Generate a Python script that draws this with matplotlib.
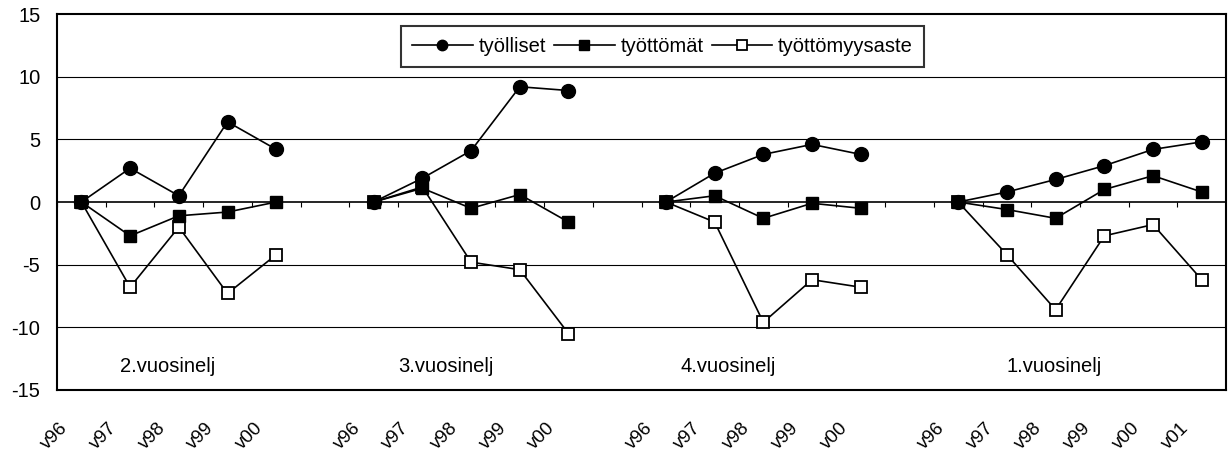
import numpy as np
import matplotlib
matplotlib.use("Agg")
import matplotlib.pyplot as plt

plt.rcParams['font.family'] = ['Liberation Sans', 'DejaVu Sans']
plt.rcParams['axes.unicode_minus'] = False

# groups (quarters) and their year labels
groups = ["2.vuosinelj", "3.vuosinelj", "4.vuosinelj", "1.vuosinelj"]
years = [["v96", "v97", "v98", "v99", "v00"],
         ["v96", "v97", "v98", "v99", "v00"],
         ["v96", "v97", "v98", "v99", "v00"],
         ["v96", "v97", "v98", "v99", "v00", "v01"]]

tyolliset = [[0, 2.7, 0.5, 6.4, 4.2],
             [0, 1.9, 4.1, 9.2, 8.9],
             [0, 2.3, 3.8, 4.6, 3.8],
             [0, 0.8, 1.8, 2.9, 4.2, 4.8]]
tyottomat = [[0, -2.7, -1.1, -0.8, 0.0],
             [0, 1.1, -0.5, 0.6, -1.6],
             [0, 0.5, -1.3, -0.1, -0.5],
             [0, -0.6, -1.3, 1.0, 2.1, 0.8]]
tyottomyysaste = [[0, -6.8, -2.0, -7.3, -4.2],
                  [0, 1.2, -4.8, -5.4, -10.5],
                  [0, -1.6, -9.6, -6.2, -6.8],
                  [0, -4.2, -8.6, -2.7, -1.8, -6.2]]

def join(parts):
    #Put the groups after each other with one empty category between them.
    out = []
    for i, p in enumerate(parts):
        if i > 0:
            out.append(np.nan)
        out += list(p)
    return np.array(out, dtype=float)

labels = []
for i, y in enumerate(years):
    if i > 0:
        labels.append("")
    labels += y

x = np.arange(len(labels))
s1 = join(tyolliset)
s2 = join(tyottomat)
s3 = join(tyottomyysaste)

fig = plt.figure(figsize=(12.32, 4.55), dpi=100)
ax = fig.add_axes([0.0463, 0.143, 0.9489, 0.826])

ax.plot(x, s3, color='black', lw=1.2, marker='s', ms=9, mfc='white',
        mec='black', mew=1.3, label='työttömyysaste', zorder=3)
ax.plot(x, s1, color='black', lw=1.2, marker='o', ms=10, mfc='black',
        mec='black', label='työlliset', zorder=4)
ax.plot(x, s2, color='black', lw=1.2, marker='s', ms=9, mfc='black',
        mec='black', label='työttömät', zorder=5)

ax.set_xlim(-0.5, len(labels) - 0.5)
ax.set_ylim(-15, 15)
ax.set_yticks(np.arange(-15, 16, 5))
ax.tick_params(axis='y', length=0, labelsize=14.5, pad=12)

for yv in [-10, -5, 5, 10]:
    ax.axhline(yv, color='black', lw=0.8, zorder=1)
ax.axhline(0, color='black', lw=1.2, zorder=2)
# small tick marks between categories on the zero line
ax.vlines(np.arange(len(labels) + 1) - 0.5, -0.4, 0, color='black', lw=0.8, zorder=2)

ax.set_xticks(x)
ax.set_xticklabels(labels, rotation=45, ha='right', rotation_mode='anchor',
                   fontsize=13.5)
ax.tick_params(axis='x', length=0, pad=21)
for lab in ax.get_xticklabels():
    lab.set_transform(lab.get_transform() + matplotlib.transforms.ScaledTranslation(-0.22, 0, fig.dpi_scale_trans))

for sp in ax.spines.values():
    sp.set_linewidth(1.5)

# quarter names inside the plot
for g, st in zip(groups, [0.8, 6.5, 12.3, 19.0]):
    ax.text(st, -13.6, g, fontsize=14.5, ha='left', va='baseline')

h, l = ax.get_legend_handles_labels()
order = [1, 2, 0]
leg = ax.legend([h[i] for i in order], [l[i] for i in order], loc='upper center',
                bbox_to_anchor=(0.518, 0.968), borderaxespad=0, ncol=3,
                fontsize=14.5, frameon=True, fancybox=False, edgecolor='black',
                handlelength=3.0, handletextpad=0.3, columnspacing=0.4,
                borderpad=0.55, markerscale=0.75)
leg.get_frame().set_linewidth(1.5)

fig.savefig("out.png", dpi=100)
